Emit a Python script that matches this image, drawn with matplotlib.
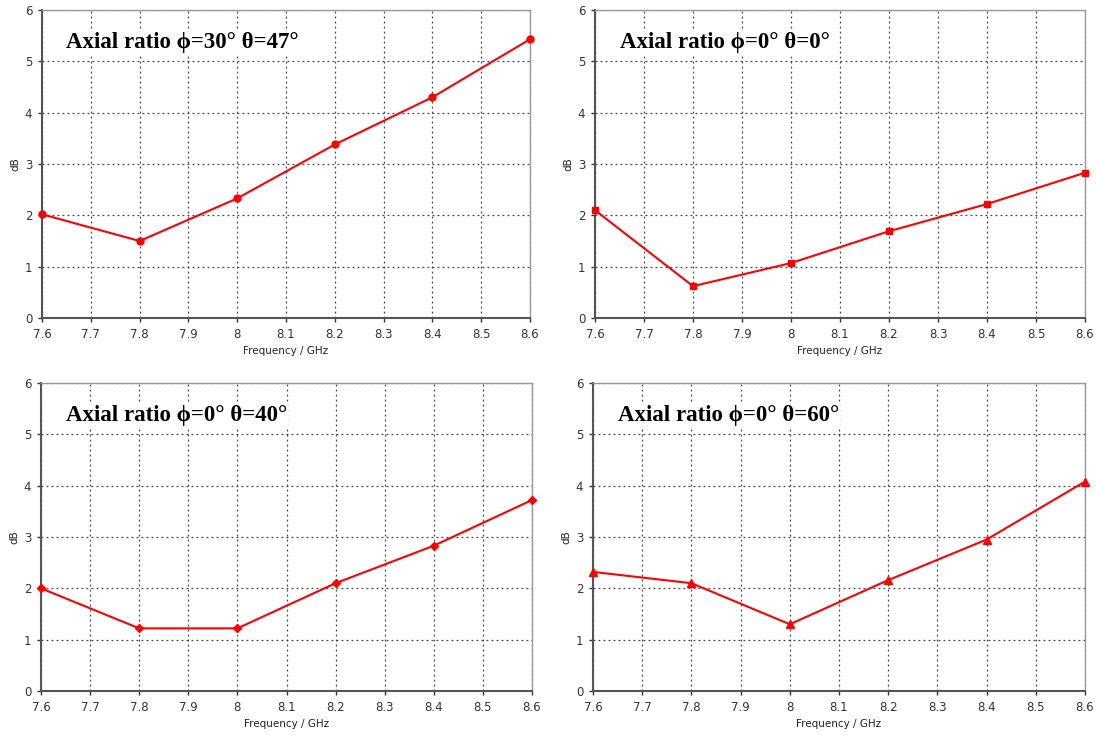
import matplotlib.pyplot as plt

plt.rcParams['font.family'] = ['DejaVu Sans']

freq = [7.6, 7.8, 8.0, 8.2, 8.4, 8.6]

ar_30_47 = [2.02, 1.50, 2.33, 3.38, 4.30, 5.43]
ar_0_0 = [2.10, 0.62, 1.07, 1.69, 2.22, 2.83]
ar_0_40 = [2.00, 1.22, 1.22, 2.10, 2.83, 3.72]
ar_0_60 = [2.32, 2.10, 1.30, 2.16, 2.95, 4.08]

titles = ['Axial ratio \u03d5=30\u00b0 \u03b8=47\u00b0',
          'Axial ratio \u03d5=0\u00b0 \u03b8=0\u00b0',
          'Axial ratio \u03d5=0\u00b0 \u03b8=40\u00b0',
          'Axial ratio \u03d5=0\u00b0 \u03b8=60\u00b0']
series = [ar_30_47, ar_0_0, ar_0_40, ar_0_60]
markers = ['o', 's', 'D', '^']
msizes = [5, 5, 4.5, 6]

xticks = [7.6, 7.7, 7.8, 7.9, 8.0, 8.1, 8.2, 8.3, 8.4, 8.5, 8.6]
xticklabels = ['7.6', '7.7', '7.8', '7.9', '8', '8.1', '8.2', '8.3', '8.4', '8.5', '8.6']

fig = plt.figure(figsize=(10.96, 7.35), dpi=100)
W, H = 1096, 735
# axes boxes in pixels: left, top, right, bottom
boxes = [(42, 10, 530, 318), (595, 10, 1085, 318),
         (41, 383, 532, 691), (593, 383, 1085, 691)]

for (l, t, r, b), vals, title, mk, ms in zip(boxes, series, titles, markers, msizes):
    ax = fig.add_axes([l / W, 1 - b / H, (r - l) / W, (b - t) / H])
    ax.plot(freq, vals, color='#ff0000', linewidth=1.5, marker=mk,
            markersize=ms, clip_on=False, zorder=3)
    ax.set_xlim(7.6, 8.6)
    ax.set_ylim(0, 6)
    ax.set_xticks(xticks)
    ax.set_xticklabels(xticklabels)
    ax.set_yticks(range(7))
    ax.grid(True, linestyle=(0, (1.5, 2.5)), color='#444444', linewidth=0.9)
    ax.tick_params(labelsize=8.5, length=3, width=1, colors='#333333', pad=4)
    for side in ['left', 'bottom']:
        ax.spines[side].set_color('#555555')
        ax.spines[side].set_linewidth(1.5)
    for side in ['top', 'right']:
        ax.spines[side].set_color('#999999')
        ax.spines[side].set_linewidth(1.0)
    ax.set_xlabel('Frequency / GHz', fontsize=7.5, color='#222222', labelpad=4)
    ax.set_ylabel('dB', fontsize=7.5, color='#222222', labelpad=3)
    ax.text(0.05, 0.895, title, transform=ax.transAxes, fontsize=16.5,
            fontweight='bold', family=['Liberation Serif', 'DejaVu Serif'],
            va='center', ha='left',
            bbox=dict(facecolor='white', edgecolor='none', pad=1))

fig.savefig('out.png', dpi=100, facecolor='white')
